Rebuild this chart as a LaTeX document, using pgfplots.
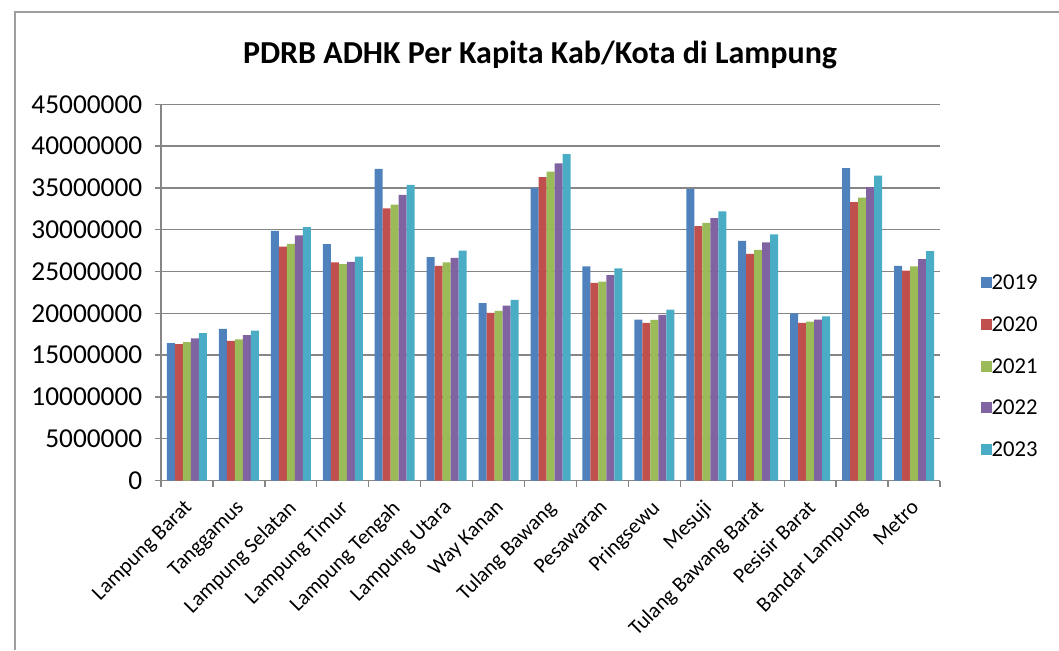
\documentclass[border=0pt]{standalone}
\usepackage{fontspec}
\setmainfont{Carlito}
\usepackage{pgfplots}
\usepackage{pgfplotstable}
\pgfplotsset{compat=1.18}
\definecolor{c19}{HTML}{4F81BD}
\definecolor{c20}{HTML}{C0504D}
\definecolor{c21}{HTML}{9BBB59}
\definecolor{c22}{HTML}{8064A2}
\definecolor{c23}{HTML}{4BACC6}
\definecolor{gridc}{HTML}{868686}

% PDRB ADHK per kapita (Rp)
\pgfplotstableread{
idx y2019 y2020 y2021 y2022 y2023
0 16430000 16310000 16550000 16990000 17620000
1 18140000 16710000 16870000 17380000 17940000
2 29860000 27990000 28310000 29310000 30300000
3 28270000 26080000 25880000 26160000 26790000
4 37280000 32540000 33010000 34170000 35370000
5 26710000 25680000 26080000 26630000 27510000
6 21210000 20060000 20290000 20930000 21610000
7 35010000 36280000 36960000 37920000 39030000
8 25600000 23640000 23800000 24560000 25360000
9 19260000 18860000 19220000 19820000 20450000
10 34890000 30420000 30820000 31380000 32180000
11 28670000 27110000 27590000 28470000 29430000
12 19980000 18860000 19020000 19260000 19620000
13 37360000 33290000 33850000 35090000 36480000
14 25680000 25120000 25600000 26480000 27430000
}\pdrb

\begin{document}
\begin{tikzpicture}
\useasboundingbox (0,0) rectangle (794.25pt,-487.5pt);
\draw[gridc!80, line width=0.8pt] (11.25pt,-487.5pt) -- (11.25pt,-9pt) -- (794.25pt,-9pt);
\node[font=\fontsize{24}{26}\selectfont\bfseries] at (405pt,-41.25pt) {PDRB ADHK Per Kapita Kab/Kota di Lampung};
\begin{axis}[
  at={(120.75pt,-360.4pt)}, anchor=south west,
  scale only axis, width=584.25pt, height=282.2pt,
  ybar=0pt, bar width=6pt,
  xmin=-0.5, xmax=14.5, ymin=0, ymax=45000000,
  xtick={0,...,14},
  xticklabels={Lampung Barat,Tanggamus,Lampung Selatan,Lampung Timur,Lampung Tengah,Lampung Utara,Way Kanan,Tulang Bawang,Pesawaran,Pringsewu,Mesuji,Tulang Bawang Barat,Pesisir Barat,Bandar Lampung,Metro},
  minor xtick={-0.5,0.5,...,14.5},
  ytick={0,5000000,10000000,15000000,20000000,25000000,30000000,35000000,40000000,45000000},
  scaled y ticks=false,
  yticklabel style={/pgf/number format/fixed, /pgf/number format/1000 sep={}, /pgf/number format/assume math mode=true, font=\fontsize{20.5}{21}\selectfont, xshift=-6pt},
  xticklabel style={xshift=-3pt, yshift=-9pt, rotate=45, anchor=north east, inner sep=0pt, font=\fontsize{16}{17}\selectfont},
  tick pos=left, tick align=outside,
  major tick length=4.5pt, minor tick length=4.5pt,
  major x tick style={draw=none},
  tick style={gridc, line width=1pt},
  axis x line*=bottom, axis y line*=left,
  axis line style={gridc, line width=1.1pt, -},
  ymajorgrids, grid style={gridc, line width=1.1pt},
  legend style={at={(1.052,0.304)}, anchor=west, draw=none, fill=none, inner sep=0pt,
    font=\fontsize{17}{18}\selectfont, row sep=20.75pt,
    nodes={inner sep=0pt, text height=10.5pt, text depth=0pt}},
  legend cell align=left,
  /tikz/every even column/.append style={column sep=5.5pt},
  legend image code/.code={\fill[#1] (0pt,-4.1pt) rectangle (8.2pt,4.1pt);},
  clip=false,
]
\addplot[fill=c19, draw=none] table[x=idx, y=y2019] {\pdrb};
\addplot[fill=c20, draw=none] table[x=idx, y=y2020] {\pdrb};
\addplot[fill=c21, draw=none] table[x=idx, y=y2021] {\pdrb};
\addplot[fill=c22, draw=none] table[x=idx, y=y2022] {\pdrb};
\addplot[fill=c23, draw=none] table[x=idx, y=y2023] {\pdrb};
\legend{2019,2020,2021,2022,2023}
\end{axis}
\end{tikzpicture}
\end{document}
